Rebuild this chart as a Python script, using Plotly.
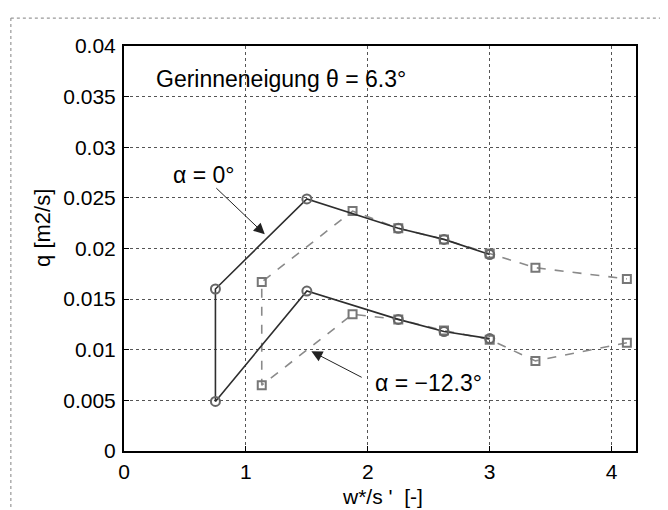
import plotly.graph_objects as go

# alpha = 0 deg, solid (circles)
up_solid_x = [0.75, 1.5, 2.25, 2.625, 3.0]
up_solid_y = [0.0160, 0.0249, 0.0220, 0.0209, 0.0194]
# alpha = -12.3 deg, solid (circles)
lo_solid_x = [0.75, 1.5, 2.25, 2.625, 3.0]
lo_solid_y = [0.0049, 0.0158, 0.0130, 0.0118, 0.0111]
# alpha = 0 deg, dashed (squares)
up_dash_x = [1.13, 1.875, 2.25, 2.625, 3.0, 3.375, 4.125]
up_dash_y = [0.0167, 0.0237, 0.0220, 0.0209, 0.0195, 0.0181, 0.0170]
# alpha = -12.3 deg, dashed (squares)
lo_dash_x = [1.13, 1.875, 2.25, 2.625, 3.0, 3.375, 4.125]
lo_dash_y = [0.0065, 0.0135, 0.0130, 0.0119, 0.0110, 0.0089, 0.0107]

x_ticks = [0, 1, 2, 3, 4]
y_ticks = [0, 0.005, 0.01, 0.015, 0.02, 0.025, 0.03, 0.035, 0.04]
y_ticktext = ["0", "0.005", "0.01", "0.015", "0.02", "0.025", "0.03", "0.035", "0.04"]

FONT = "Liberation Sans, Arial, sans-serif"

fig = go.Figure()

# dashed series as one connected path (lower reversed, then upper)
fig.add_trace(go.Scatter(
    x=lo_dash_x[::-1] + up_dash_x, y=lo_dash_y[::-1] + up_dash_y,
    mode="lines+markers",
    line=dict(color="#8a8a8a", width=1.6, dash="dash"),
    marker=dict(symbol="square-open", size=8, color="#777", line=dict(width=2)),
    showlegend=False, hoverinfo="skip"))

# solid series as one connected path
fig.add_trace(go.Scatter(
    x=lo_solid_x[::-1] + up_solid_x, y=lo_solid_y[::-1] + up_solid_y,
    mode="lines+markers",
    line=dict(color="#2e2e2e", width=1.6),
    marker=dict(symbol="circle-open", size=9, color="#666", line=dict(width=2)),
    showlegend=False, hoverinfo="skip"))

txt = dict(family=FONT, size=23, color="black")
anns = [
    dict(x=0.246, y=0.0367, xref="x", yref="y", text="Gerinneneigung θ = 6.3°",
         showarrow=False, xanchor="left", yanchor="middle", font=txt),
    dict(x=0.386, y=0.0273, xref="x", yref="y", text="α = 0°",
         showarrow=False, xanchor="left", yanchor="middle", font=txt),
    dict(x=2.044, y=0.0067, xref="x", yref="y", text="α = −12.3°",
         showarrow=False, xanchor="left", yanchor="middle", font=txt),
    dict(x=1.155, y=0.0214, xref="x", yref="y", axref="x", ayref="y",
         ax=0.745, ay=0.0261, text="", showarrow=True, arrowhead=2,
         arrowsize=2.2, arrowwidth=1, arrowcolor="#222"),
    dict(x=1.537, y=0.00985, xref="x", yref="y", axref="x", ayref="y",
         ax=1.962, ay=0.0072, text="", showarrow=True, arrowhead=2,
         arrowsize=2.2, arrowwidth=1, arrowcolor="#222"),
    dict(x=-0.158, y=0.551, xref="paper", yref="paper", text="q [m2/s]",
         textangle=-90, showarrow=False, xanchor="center", yanchor="middle",
         font=dict(family=FONT, size=22, color="black")),
    dict(x=0.505, y=-0.112, xref="paper", yref="paper", text="w*/s '  [-]",
         showarrow=False, xanchor="center", yanchor="middle",
         font=dict(family=FONT, size=21, color="black")),
]

axis_common = dict(
    showline=True, linecolor="black", linewidth=2, mirror=True,
    ticks="inside", ticklen=5, tickcolor="black",
    showgrid=True, gridcolor="#555", gridwidth=1, griddash="dot",
    zeroline=False, tickfont=dict(family=FONT, size=21, color="black"),
)

fig.update_layout(
    width=668, height=510,
    margin=dict(l=116, r=40, t=38, b=67),
    paper_bgcolor="white", plot_bgcolor="white",
    xaxis=dict(range=[0, 4.2], tickvals=x_ticks, ticklabelstandoff=1, **axis_common),
    yaxis=dict(range=[0, 0.04], tickvals=y_ticks, ticktext=y_ticktext,
               ticklabelstandoff=2, **axis_common),
    annotations=anns,
    shapes=[
        dict(type="line", xref="paper", yref="paper", x0=-0.221, x1=1.09,
             y0=1.069, y1=1.069, line=dict(color="#999", width=1.2, dash="dot")),
        dict(type="line", xref="paper", yref="paper", x0=-0.221, x1=-0.221,
             y0=1.069, y1=-0.17, line=dict(color="#999", width=1.2, dash="dot")),
    ],
)

fig.write_html("out.html")
